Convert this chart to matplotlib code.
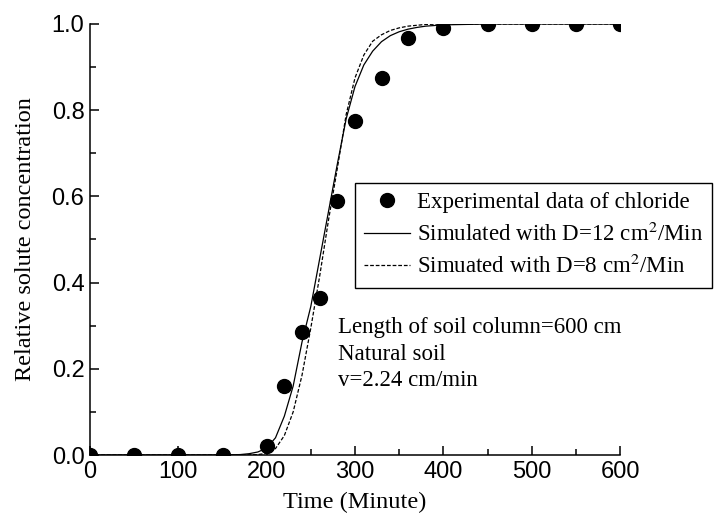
import matplotlib
matplotlib.use("Agg")
import matplotlib.pyplot as plt
from matplotlib.ticker import MultipleLocator, FormatStrFormatter

# experimental points
t_exp = [0, 50, 100, 150, 200, 220, 240, 260, 280, 300, 330, 360, 400, 450, 500, 550, 600]
c_exp = [0, 0, 0, 0, 0.02, 0.16, 0.285, 0.365, 0.59, 0.775, 0.875, 0.968, 0.99, 1.0, 1.0, 1.0, 1.0]

# simulated curve D=12 (solid)
t_d12 = [0, 150, 160, 170, 180, 190, 200, 210, 220, 230, 240, 250, 260, 270, 280, 290,
         300, 310, 320, 330, 340, 350, 360, 370, 380, 400, 450, 600]
c_d12 = [0, 0.0, 0.0005, 0.001, 0.003, 0.007, 0.016, 0.04, 0.09, 0.16, 0.262, 0.345, 0.455, 0.565,
         0.675, 0.78, 0.855, 0.905, 0.937, 0.959, 0.973, 0.982, 0.988, 0.992, 0.995, 0.998, 1.0, 1.0]

# simulated curve D=8 (dashed)
t_d8 = [0, 170, 180, 190, 200, 210, 220, 230, 240, 250, 260, 270, 280, 290,
        300, 310, 320, 330, 340, 350, 360, 370, 380, 400, 600]
c_d8 = [0, 0.0, 0.0003, 0.001, 0.004, 0.015, 0.045, 0.1, 0.185, 0.295, 0.415, 0.545, 0.665, 0.79,
        0.875, 0.928, 0.96, 0.975, 0.985, 0.991, 0.995, 0.997, 0.999, 1.0, 1.0]

notes = ["Length of soil column=600 cm", "Natural soil", "v=2.24 cm/min"]

serif = "Liberation Serif"
sans = "Liberation Sans"
plt.rcParams["mathtext.fontset"] = "stix"

fig = plt.figure(figsize=(7.21, 5.28), dpi=100)
ax = fig.add_axes([90/721, 1-455/528, 530/721, 431/528])

ax.plot(t_exp, c_exp, "o", color="black", markersize=10, label="Experimental data of chloride")
ax.plot(t_d12, c_d12, "-", color="black", lw=0.9, label="Simulated with D=12 cm$^2$/Min")
ax.plot(t_d8, c_d8, "--", color="black", lw=0.9, dashes=(3, 1.5), label="Simuated with D=8 cm$^2$/Min")

ax.set_xlim(0, 600)
ax.set_ylim(0, 1.0)
ax.xaxis.set_major_locator(MultipleLocator(100))
ax.xaxis.set_minor_locator(MultipleLocator(50))
ax.yaxis.set_major_locator(MultipleLocator(0.2))
ax.yaxis.set_minor_locator(MultipleLocator(0.1))
ax.yaxis.set_major_formatter(FormatStrFormatter("%.1f"))

for s in ["top", "right"]:
    ax.spines[s].set_visible(False)
for s in ["left", "bottom"]:
    ax.spines[s].set_linewidth(1.1)

ax.tick_params(which="both", direction="in", width=1.1, labelsize=17, pad=4)
ax.tick_params(which="major", length=6.5)
ax.tick_params(which="minor", length=4)
for lab in ax.get_xticklabels() + ax.get_yticklabels():
    lab.set_fontfamily(sans)

ax.set_xlabel("Time (Minute)", fontfamily=serif, fontsize=17.5, labelpad=7)
ax.set_ylabel("Relative solute concentration", fontfamily=serif, fontsize=17.5, labelpad=11)

leg = fig.legend(loc="upper left", bbox_to_anchor=(355/721, 1-182.5/528), borderaxespad=0,
                 prop={"family": serif, "size": 16.5}, frameon=True, fancybox=False,
                 edgecolor="black", framealpha=1, handlelength=2.0, handletextpad=0.3,
                 labelspacing=0.42, borderpad=0.4)
leg.get_frame().set_linewidth(1.0)

fig.text(338/721, 1-317/528, "\n".join(notes), fontfamily=serif, fontsize=16.5,
         va="top", ha="left", linespacing=1.35)

fig.savefig("out.png", dpi=100)
